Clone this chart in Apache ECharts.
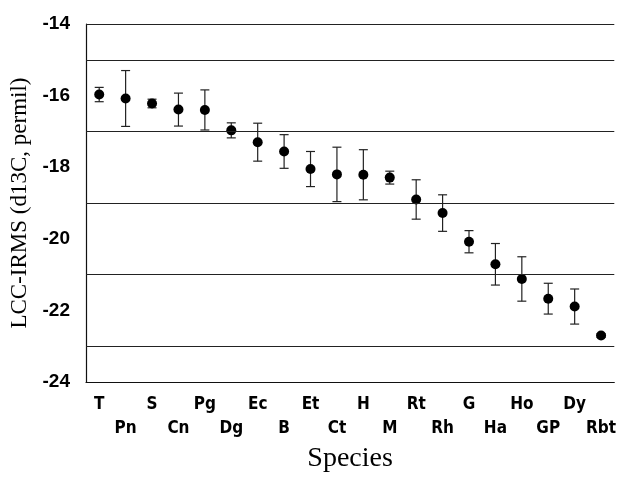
<!DOCTYPE html>
<html>
<head>
<meta charset="utf-8">
<script src="https://cdn.jsdelivr.net/npm/echarts@6/dist/echarts.min.js"></script>
<style>
html,body{margin:0;padding:0;background:#fff;}
#main{width:619px;height:478px;}
</style>
</head>
<body>
<div id="main"></div>
<script>
//物种分类
var species = ['T','Pn','S','Cn','Pg','Dg','Ec','B','Et','Ct','H','M','Rt','Rh','G','Ha','Ho','GP','Dy','Rbt'];
//均值 (d13C)
var means = [-15.97,-16.08,-16.22,-16.39,-16.4,-16.97,-17.3,-17.56,-18.05,-18.2,-18.21,-18.29,-18.9,-19.28,-20.08,-20.71,-21.12,-21.67,-21.89,-22.7];
//误差
var errs = [0.2,0.78,0.12,0.46,0.56,0.21,0.53,0.47,0.49,0.76,0.7,0.18,0.55,0.51,0.31,0.58,0.62,0.43,0.49,0.05];
//水平网格线
var gridLevels = [-14,-15,-17,-19,-21,-23];

var barData = [];
for(var i=0;i<species.length;i++){
	barData.push([i, means[i]+errs[i], means[i]-errs[i]]);
}

var myChart = echarts.init(document.getElementById('main'));
var option = {
	backgroundColor:'#fff',
	animation:false,
	grid:{left:86,right:1,top:24,bottom:85},
	xAxis:[{
		type:'category',
		data:species,
		name:'Species',
		nameLocation:'middle',
		nameGap:54,
		nameTextStyle:{fontFamily:'Liberation Serif',fontSize:28,color:'#000'},
		axisLine:{lineStyle:{color:'#111',width:1.2}},
		axisTick:{length:9,lineStyle:{color:'#111'}},
		axisLabel:{
			interval:0,
			margin:10,
			color:'#000',
			fontFamily:"'DejaVu Sans Condensed', 'Liberation Sans', sans-serif",
			fontWeight:'bold',
			fontSize:17,
			lineHeight:24,
			formatter:function(v,idx){
				return idx%2 ? '\n'+v : v;
			}
		},
		splitLine:{show:false}
	},{
		//朝内的刻度
		type:'category',
		data:species,
		position:'bottom',
		axisLine:{show:false},
		axisTick:{inside:true,length:8,lineStyle:{color:'#111'}},
		axisLabel:{show:false},
		splitLine:{show:false}
	}],
	yAxis:{
		type:'value',
		min:-24,
		max:-14,
		interval:2,
		name:'LCC-IRMS (d13C, permil)',
		nameLocation:'middle',
		nameGap:54,
		nameTextStyle:{fontFamily:'Liberation Serif',fontSize:23,color:'#000'},
		axisLine:{show:true,lineStyle:{color:'#111',width:1.2}},
		axisTick:{show:false},
		axisLabel:{
			margin:16,
			color:'#000',
			fontFamily:"'Liberation Sans', sans-serif",
			fontWeight:'bold',
			fontSize:19
		},
		splitLine:{show:false}
	},
	series:[{
		//误差线
		type:'custom',
		data:barData,
		encode:{x:0,y:[1,2]},
		z:2,
		renderItem:function(params,api){
			var x = api.value(0);
			var hi = api.coord([x,api.value(1)]);
			var lo = api.coord([x,api.value(2)]);
			var w = 4.5;
			var st = {stroke:'#222',lineWidth:1.2};
			return {
				type:'group',
				children:[
					{type:'line',shape:{x1:hi[0],y1:hi[1],x2:lo[0],y2:lo[1]},style:st},
					{type:'line',shape:{x1:hi[0]-w,y1:hi[1],x2:hi[0]+w,y2:hi[1]},style:st},
					{type:'line',shape:{x1:lo[0]-w,y1:lo[1],x2:lo[0]+w,y2:lo[1]},style:st}
				]
			};
		}
	},{
		type:'scatter',
		data:means,
		symbol:'circle',
		symbolSize:10,
		z:3,
		itemStyle:{color:'#000',opacity:1},
		markLine:{
			silent:true,
			symbol:'none',
			label:{show:false},
			lineStyle:{color:'#222',width:1.2,type:'solid'},
			data:gridLevels.map(function(v){return {yAxis:v};})
		}
	}]
};
myChart.setOption(option);
</script>
</body>
</html>
